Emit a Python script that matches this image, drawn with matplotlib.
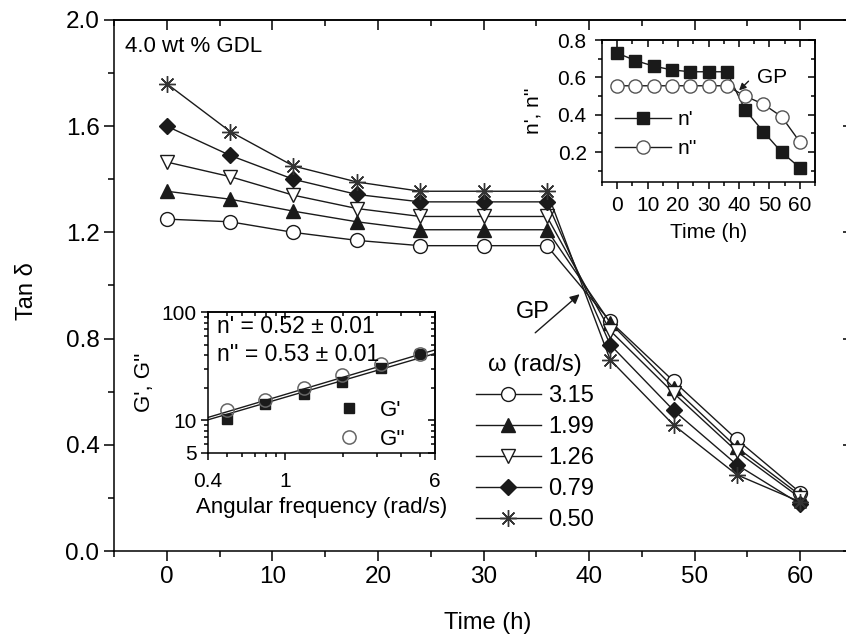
import numpy as np
import matplotlib
matplotlib.use('Agg')
import matplotlib.pyplot as plt
from matplotlib.ticker import MultipleLocator, LogLocator, FixedLocator, FixedFormatter, NullFormatter

plt.rcParams['font.family'] = ['Liberation Sans', 'DejaVu Sans']
plt.rcParams['axes.linewidth'] = 1.1

# ---- main panel: tan delta vs time ----
time_h = [0, 6, 12, 18, 24, 30, 36, 42, 48, 54, 60]
tan_315 = [1.25, 1.24, 1.20, 1.17, 1.15, 1.15, 1.15, 0.865, 0.64, 0.42, 0.22]
tan_199 = [1.355, 1.325, 1.28, 1.24, 1.21, 1.21, 1.21, 0.86, 0.615, 0.39, 0.21]
tan_126 = [1.465, 1.41, 1.34, 1.29, 1.26, 1.26, 1.26, 0.83, 0.595, 0.375, 0.20]
tan_079 = [1.60, 1.49, 1.40, 1.343, 1.315, 1.315, 1.315, 0.777, 0.53, 0.325, 0.177]
tan_050 = [1.76, 1.58, 1.45, 1.39, 1.355, 1.355, 1.355, 0.72, 0.475, 0.287, 0.185]
omega_labels = ['3.15', '1.99', '1.26', '0.79', '0.50']

# ---- inset: n', n'' vs time ----
n_time = [0, 6, 12, 18, 24, 30, 36, 42, 48, 54, 60]
n_prime = [0.73, 0.69, 0.66, 0.64, 0.63, 0.63, 0.63, 0.427, 0.31, 0.20, 0.117]
n_dprime = [0.555, 0.555, 0.555, 0.555, 0.555, 0.555, 0.555, 0.50, 0.457, 0.39, 0.255]

# ---- inset: G', G'' vs angular frequency ----
freq = [0.50, 0.79, 1.26, 1.99, 3.15, 5.0]
g_prime = [10.4, 14.1, 17.5, 22.6, 30.6, 41.4]
g_dprime = [12.5, 15.5, 20.0, 26.3, 33.4, 41.4]
fit_n = [0.52, 0.53]      # power-law exponents (G', G'')
fit_k = [16.3, 17.3]      # prefactor at 1 rad/s

LC = '#1a1a1a'
W, H = 846, 636


def origin_ticks(ax, xmaj=None, xmin=None, ymaj=None, ymin=None, major_len=7, minor_len=3.5):
    """outward ticks left/bottom, inward mirrored ticks top/right (Origin style)"""
    if xmaj is not None:
        ax.xaxis.set_major_locator(MultipleLocator(xmaj))
        ax.xaxis.set_minor_locator(MultipleLocator(xmin))
    if ymaj is not None:
        ax.yaxis.set_major_locator(MultipleLocator(ymaj))
        ax.yaxis.set_minor_locator(MultipleLocator(ymin))
    ax.tick_params(which='major', direction='out', length=major_len, width=1.1)
    ax.tick_params(which='minor', direction='out', length=minor_len, width=1.1)
    top = ax.secondary_xaxis('top')
    right = ax.secondary_yaxis('right')
    top.xaxis.set_major_locator(ax.xaxis.get_major_locator())
    top.xaxis.set_minor_locator(ax.xaxis.get_minor_locator())
    right.yaxis.set_major_locator(ax.yaxis.get_major_locator())
    right.yaxis.set_minor_locator(ax.yaxis.get_minor_locator())
    for sec in (top, right):
        sec.tick_params(which='major', direction='in', length=major_len, width=1.1,
                        labeltop=False, labelright=False)
        sec.tick_params(which='minor', direction='in', length=minor_len, width=1.1,
                        labeltop=False, labelright=False)
        for sp in sec.spines.values():
            sp.set_linewidth(1.1)
    return top, right


fig = plt.figure(figsize=(W / 100, H / 100), dpi=100)

# main axes (right spine sits just outside the picture, like the original)
ax = fig.add_axes([114 / W, 85 / H, 739 / W, 531 / H])
ax.set_xlim(-5, 65)
ax.set_ylim(0, 2.0)
origin_ticks(ax, 10, 5, 0.4, 0.2, major_len=7, minor_len=4)
ax.tick_params(labelsize=17.5)
ax.yaxis.set_major_formatter(matplotlib.ticker.FormatStrFormatter('%.1f'))

series = [
    (tan_315, dict(marker='o', mfc='white', mec=LC, ms=10)),
    (tan_199, dict(marker='^', mfc=LC, mec=LC, ms=10)),
    (tan_126, dict(marker='v', mfc='white', mec=LC, ms=10)),
    (tan_079, dict(marker='D', mfc=LC, mec=LC, ms=8.5)),
    (tan_050, dict(marker=(8, 2, 0), mfc=LC, mec='#333333', ms=12, mew=1.0)),
]
for (vals, st), lab in zip(series, omega_labels):
    ax.plot(time_h, vals, color=LC, lw=1.0, label=lab, **st)

leg = ax.legend(title='\u03c9 (rad/s)', loc='upper left',
                bbox_to_anchor=(476 / W, 1 - 354 / H), bbox_transform=fig.transFigure,
                frameon=False, fontsize=17, title_fontsize=17, handlelength=2.75,
                handletextpad=0.3, borderpad=0, borderaxespad=0, labelspacing=0.38)

ax.set_xlabel('Time (h)', fontsize=17)
ax.set_ylabel('Tan \u03b4', fontsize=17)
ax.xaxis.set_label_coords(0.506, -0.115)
ax.yaxis.set_label_coords(-0.103, 0.49)

ax.text(-4.0, 1.90, '4.0 wt % GDL', fontsize=16, va='center', ha='left')
ax.annotate('', xy=(39.3, 0.974), xytext=(34.7, 0.815),
            arrowprops=dict(arrowstyle='-|>', color=LC, lw=1.0, mutation_scale=14))
ax.text(34.7, 0.90, 'GP', fontsize=17, ha='center', va='center')

# ---- inset n', n'' ----
ax1 = fig.add_axes([602 / W, (H - 182) / H, 213 / W, 142 / H])
ax1.set_xlim(-5, 65)
ax1.set_ylim(0.04, 0.8)
origin_ticks(ax1, 10, 5, 0.2, 0.1, major_len=5, minor_len=3)
ax1.tick_params(labelsize=15)
ax1.tick_params(axis='x', pad=5)
ax1.tick_params(axis='y', pad=6)
ax1.set_yticks([0.2, 0.4, 0.6, 0.8])
ax1.yaxis.set_major_formatter(matplotlib.ticker.FormatStrFormatter('%.1f'))
ax1.plot(n_time, n_prime, color=LC, lw=1.0, marker='s', mfc=LC, mec=LC, ms=8, label="n'")
ax1.plot(n_time, n_dprime, color=LC, lw=1.0, marker='o', mfc='white', mec='#555555', ms=9.5,
         label="n''")
ax1.set_xlabel('Time (h)', fontsize=15, labelpad=6)
ax1.set_ylabel("n', n''", fontsize=15, labelpad=11)
ax1.legend(loc='upper left', bbox_to_anchor=(615 / W, 1 - 110 / H), bbox_transform=fig.transFigure,
           frameon=False, fontsize=15, handlelength=2.7, handletextpad=0.3, borderpad=0,
           borderaxespad=0, labelspacing=0.5)
ax1.annotate('', xy=(39.4, 0.52), xytext=(43.8, 0.59),
             arrowprops=dict(arrowstyle='-|>', color=LC, lw=1.0, mutation_scale=10))
ax1.text(45.8, 0.60, 'GP', fontsize=15, ha='left', va='center')

# ---- inset G', G'' ----
ax2 = fig.add_axes([208 / W, (H - 453) / H, 227 / W, 141 / H])
ax2.set_xscale('log')
ax2.set_yscale('log')
ax2.set_xlim(0.4, 6)
ax2.set_ylim(5, 100)
xmaj = [0.4, 1, 6]
ymaj = [5, 10, 100]
ax2.xaxis.set_major_locator(FixedLocator(xmaj))
ax2.xaxis.set_major_formatter(FixedFormatter(['0.4', '1', '6']))
ax2.yaxis.set_major_locator(FixedLocator(ymaj))
ax2.yaxis.set_major_formatter(FixedFormatter(['5', '10', '100']))
ax2.xaxis.set_minor_locator(LogLocator(subs=np.arange(2, 10)))
ax2.yaxis.set_minor_locator(LogLocator(subs=np.arange(2, 10)))
ax2.xaxis.set_minor_formatter(NullFormatter())
ax2.yaxis.set_minor_formatter(NullFormatter())
ax2.tick_params(which='major', direction='out', length=5, width=1.1, labelsize=15)
ax2.tick_params(which='minor', direction='out', length=3, width=1.1)
ax2.tick_params(axis='x', which='major', pad=9)
ax2.tick_params(axis='y', which='major', pad=3)
for loc_name in ('top', 'right'):
    if loc_name == 'top':
        sec = ax2.secondary_xaxis('top')
        sec.xaxis.set_major_locator(FixedLocator(xmaj))
        sec.xaxis.set_minor_locator(LogLocator(subs=np.arange(2, 10)))
    else:
        sec = ax2.secondary_yaxis('right')
        sec.yaxis.set_major_locator(FixedLocator(ymaj))
        sec.yaxis.set_minor_locator(LogLocator(subs=np.arange(2, 10)))
    sec.tick_params(which='major', direction='in', length=5, width=1.1, labeltop=False, labelright=False)
    sec.tick_params(which='minor', direction='in', length=3, width=1.1, labeltop=False, labelright=False)

xs = np.array(ax2.get_xlim())
for n, k in zip(fit_n, fit_k):
    ax2.plot(xs, k * xs ** n, color=LC, lw=1.0, zorder=1)
ax2.plot(freq, g_prime, ls='none', marker='s', mfc=LC, mec=LC, ms=7, label="G'", zorder=2)
ax2.plot(freq, g_dprime, ls='none', marker='o', mfc='none', mec='#666666', ms=9.5, mew=1.1,
         label="G''", zorder=3)
ax2.text(0.04, 0.895, "n' = 0.52 \u00b1 0.01", transform=ax2.transAxes, fontsize=16.5, va='center')
ax2.text(0.04, 0.70, "n'' = 0.53 \u00b1 0.01", transform=ax2.transAxes, fontsize=16.5, va='center')
ax2.legend(loc='upper left', bbox_to_anchor=(338 / W, 1 - 400 / H), bbox_transform=fig.transFigure,
           frameon=False, fontsize=16, handlelength=1.0, handletextpad=0.9, borderpad=0,
           borderaxespad=0, labelspacing=0.35, numpoints=1)
ax2.set_xlabel('Angular frequency (rad/s)', fontsize=16, labelpad=4)
ax2.set_ylabel("G', G''", fontsize=16, labelpad=5)

fig.savefig('out.png', dpi=100)
